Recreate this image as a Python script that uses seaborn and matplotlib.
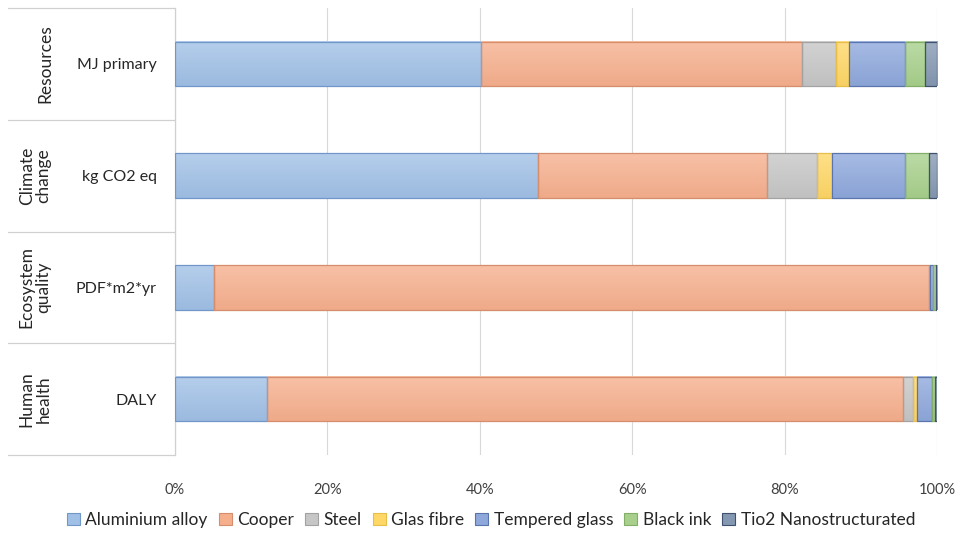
import numpy as np
import pandas as pd
import seaborn as sns
import matplotlib.pyplot as plt
import matplotlib.transforms as mtransforms
from matplotlib.colors import to_rgb
from matplotlib.patches import Patch

# Impact indicators (inner axis labels) and their impact categories (outer labels)
indicators = ["MJ primary", "kg CO2 eq", "PDF*m2*yr", "DALY"]
impact_groups = ["Resources", "Climate\nchange", "Ecosystem\nquality", "Human\nhealth"]

materials = ["Aluminium alloy", "Cooper", "Steel", "Glas fibre",
             "Tempered glass", "Black ink", "Tio2 Nanostructurated"]

# Share of each material in every indicator (%)
aluminium_alloy = [40.2, 47.6, 5.1, 12.1]
cooper = [42.1, 30.1, 93.9, 83.5]
steel = [4.5, 6.6, 0.05, 1.3]
glas_fibre = [1.7, 1.9, 0.02, 0.45]
tempered_glass = [7.3, 9.6, 0.4, 2.0]
black_ink = [2.6, 3.1, 0.38, 0.4]
tio2_nano = [1.6, 1.1, 0.15, 0.25]

x_ticks = [0, 20, 40, 60, 80, 100]
x_tick_labels = ["0%", "20%", "40%", "60%", "80%", "100%"]

face_colors = ["#A0C0E6", "#F6AF8D", "#C6C6C6", "#FFD766",
               "#8EA8DC", "#A8D08C", "#8598B2"]
edge_colors = ["#7196C8", "#D68D6B", "#A2A2A2", "#E8BE4A",
               "#5A74AE", "#82AE68", "#3F516E"]

series = [aluminium_alloy, cooper, steel, glas_fibre,
          tempered_glass, black_ink, tio2_nano]
df = pd.DataFrame({"indicator": indicators})
for name, values in zip(materials, series):
    df[name] = values

sns.set_theme(style="white")
plt.rcParams["font.family"] = ["Lato", "DejaVu Sans"]

W, H = 957, 539
fig = plt.figure(figsize=(W / 100, H / 100), dpi=100)
ax_left, ax_right, ax_top, ax_bottom = 175, 937, 8, 455
ax = fig.add_axes([ax_left / W, 1 - ax_bottom / H,
                   (ax_right - ax_left) / W, (ax_bottom - ax_top) / H])

# Stacked horizontal bars, one seaborn call per material
left = np.zeros(len(indicators))
for name, fc, ec in zip(materials, face_colors, edge_colors):
    sns.barplot(data=df, x=name, y="indicator", order=indicators, orient="h",
                color=fc, saturation=1, width=0.4, left=left.copy(),
                edgecolor=ec, linewidth=0.9, ax=ax, zorder=3)
    left += df[name].to_numpy()


def shade(color, amount):
    """Blend towards white (amount > 0) or black (amount < 0)."""
    c = np.array(to_rgb(color))
    target = np.ones(3) if amount > 0 else np.zeros(3)
    return c + (target - c) * abs(amount)


# Soft vertical gradient inside each bar segment (lighter at the top)
for container, fc in zip(ax.containers, face_colors):
    top_c, bot_c = shade(fc, 0.22), shade(fc, -0.03)
    ramp = np.linspace(0, 1, 64)[:, None, None]
    grad = top_c[None, None, :] * (1 - ramp) + bot_c[None, None, :] * ramp
    for bar in container:
        x0, y0 = bar.get_x(), bar.get_y()
        w, h = bar.get_width(), bar.get_height()
        if w <= 0:
            continue
        ax.imshow(grad, extent=(x0, x0 + w, y0 + h, y0), origin="upper",
                  aspect="auto", interpolation="bilinear", zorder=2.9)
        bar.set_facecolor("none")

ax.set_xlim(0, 100)
ax.set_ylim(3.5, -0.5)
ax.set_xticks(x_ticks)
ax.set_xticklabels(x_tick_labels)
ax.set_xlabel("")
ax.set_ylabel("")

ax.grid(axis="x", color="#D9D9D9", linewidth=0.8, zorder=0)
ax.grid(axis="y", visible=False)
for side in ["top", "right", "bottom"]:
    ax.spines[side].set_visible(False)
ax.spines["left"].set_color("#D0D0D0")
ax.spines["left"].set_linewidth(0.9)

ax.tick_params(axis="x", length=0, pad=20, labelsize=10.5, labelcolor="#404040")
ax.tick_params(axis="y", length=0, pad=13, labelsize=11.5, labelcolor="#262626")

# Multi-level category axis: outer group labels and separators
trans = mtransforms.blended_transform_factory(fig.transFigure, ax.transData)
for b in np.arange(-0.5, len(indicators), 1.0):
    ax.plot([8 / W, ax_left / W], [b, b], transform=trans, color="#D0D0D0",
            linewidth=0.9, clip_on=False)
for i, grp in enumerate(impact_groups):
    xc = 45 if "\n" not in grp else 35
    ax.text(xc / W, i, grp, transform=trans, rotation=90, ha="center",
            va="center", fontsize=12.5, color="#262626", linespacing=1.05,
            multialignment="center")

handles = [Patch(facecolor=fc, edgecolor=ec, linewidth=0.8)
           for fc, ec in zip(face_colors, edge_colors)]
fig.legend(handles, materials, loc="center", bbox_to_anchor=(491 / W, 1 - 520 / H),
           ncol=7, frameon=False, fontsize=12.5, handlelength=0.75,
           handleheight=0.75, handletextpad=0.3, columnspacing=0.65,
           labelcolor="#262626")

fig.savefig("out.png", dpi=100)
